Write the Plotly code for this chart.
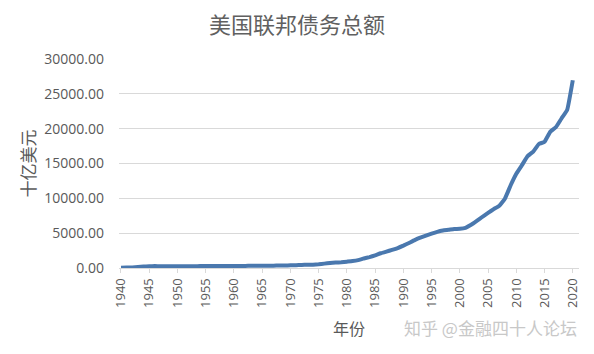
import plotly.graph_objects as go

years = list(range(1940, 2021))
debt = [50.7, 57.5, 79.2, 142.6, 204.1, 260.1, 271.0, 257.1, 252.0, 252.6,
        256.9, 255.3, 259.1, 266.0, 270.8, 274.4, 272.7, 272.3, 279.7, 287.5,
        290.5, 292.6, 302.9, 310.3, 316.1, 322.3, 328.5, 340.4, 368.7, 365.8,
        380.9, 408.2, 435.9, 466.3, 483.9, 541.9, 629.0, 706.4, 776.6, 829.5,
        909.0, 994.8, 1137.3, 1371.7, 1564.6, 1817.4, 2120.5, 2346.0, 2601.1, 2867.8,
        3206.3, 3598.2, 4001.8, 4351.0, 4643.3, 4920.6, 5181.5, 5369.2, 5478.2, 5605.5,
        5628.7, 5769.9, 6198.4, 6760.0, 7354.7, 7905.3, 8451.4, 8950.7, 9986.1, 11875.9,
        13528.8, 14764.2, 16050.9, 16719.4, 17794.5, 18120.1, 19539.5, 20205.7, 21462.3, 22669.5,
        26945.4]
x_ticks = list(range(1940, 2021, 5))
y_ticks = list(range(0, 30001, 5000))

title_text = "美国联邦债务总额"
y_title = "十亿美元"
x_title = "年份"
watermark = "知乎 @金融四十人论坛"

font_cjk = "Noto Sans CJK SC"
grey = "#595959"

fig = go.Figure()
fig.add_trace(go.Scatter(x=years, y=debt, mode="lines",
                         line=dict(color="#4A78AE", width=4, shape="spline", smoothing=0.3),
                         hoverinfo="x+y", showlegend=False))

fig.update_layout(
    width=594, height=354,
    margin=dict(l=119, r=15, t=59, b=86),
    paper_bgcolor="white", plot_bgcolor="white",
    title=dict(text=title_text, x=0.5, xanchor="center", y=0.928, yanchor="middle",
               font=dict(family=font_cjk, size=22, color="#606060")),
    font=dict(family="Open Sans, " + font_cjk, color=grey),
)
fig.update_xaxes(
    range=[1939.65, 2021.1],
    tickmode="array", tickvals=x_ticks, ticktext=[str(v) for v in x_ticks],
    tickangle=-90, tickfont=dict(family="Open Sans", size=13, color=grey),
    ticks="outside", ticklen=4, tickcolor="#D9D9D9",
    showgrid=False, zeroline=False,
    showline=True, linecolor="#D9D9D9", linewidth=1,
)
fig.update_yaxes(
    range=[0, 30000],
    tickmode="array", tickvals=y_ticks, ticktext=[f"{v:.2f}" for v in y_ticks],
    tickfont=dict(family="Open Sans", size=14, color=grey),
    ticklabelstandoff=14,
    showgrid=True, gridcolor="#D9D9D9", gridwidth=1,
    zeroline=False, showline=False, ticks="",
)
fig.add_annotation(text=y_title, xref="paper", yref="paper", x=-0.2, y=0.5,
                   xanchor="center", yanchor="middle", textangle=-90, showarrow=False,
                   font=dict(family=font_cjk, size=17, color=grey))
fig.add_annotation(text=x_title, xref="paper", yref="paper", x=0.5, y=-0.285,
                   xanchor="center", yanchor="middle", showarrow=False,
                   font=dict(family=font_cjk, size=16, color=grey))
fig.add_annotation(text=watermark, xref="paper", yref="paper", x=1.0, y=-0.285,
                   xanchor="right", yanchor="middle", showarrow=False,
                   font=dict(family=font_cjk, size=17, color="#C8C8C8"))

fig.write_html("out.html")
